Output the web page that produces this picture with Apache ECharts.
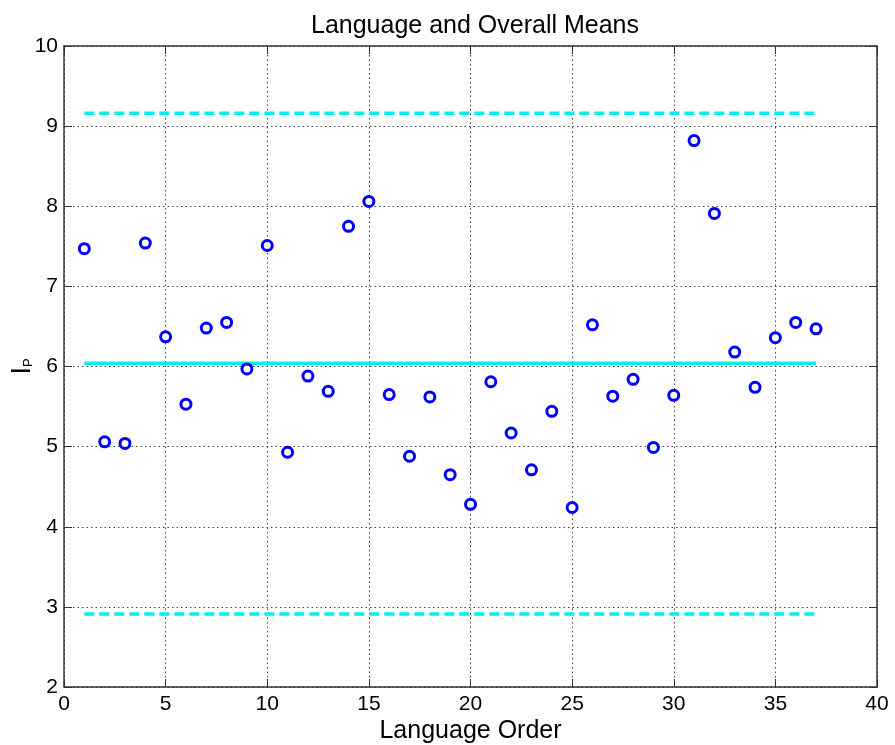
<!DOCTYPE html>
<html>
<head>
<meta charset="utf-8">
<script src="https://cdn.jsdelivr.net/npm/echarts@6/dist/echarts.min.js"></script>
<style>html,body{margin:0;padding:0;background:#fff}#c{width:895px;height:745px}</style>
</head>
<body>
<div id="c"></div>
<script>
const order = [1,2,3,4,5,6,7,8,9,10,11,12,13,14,15,16,17,18,19,20,21,22,23,24,25,26,27,28,29,30,31,32,33,34,35,36,37];
const ipValues = [7.47,5.06,5.04,7.54,6.37,5.53,6.48,6.55,5.97,7.51,4.93,5.88,5.69,7.75,8.06,5.65,4.88,5.62,4.65,4.28,5.81,5.17,4.71,5.44,4.24,6.52,5.63,5.84,4.99,5.64,8.82,7.91,6.18,5.74,6.36,6.55,6.47];
const overallMean = 6.04;
const upperBound = 9.16;
const lowerBound = 2.91;
const lineStart = 1, lineEnd = 37;

const font = 'Liberation Sans, Arial, Helvetica, sans-serif';
const chart = echarts.init(document.getElementById('c'), null, {renderer: 'canvas'});
const hLine = (v, type) => ({
  type: 'line', data: [[lineStart, v], [lineEnd, v]], symbol: 'none', silent: true,
  lineStyle: {color: '#00eeee', width: 3.5, type: type}, z: 3
});
const inTick = {show: true, inside: true, length: 8, lineStyle: {color: '#333', width: 1}};
chart.setOption({
  animation: false,
  backgroundColor: '#fff',
  title: {text: 'Language and Overall Means', left: 306, top: 9,
    textStyle: {fontFamily: font, fontSize: 25, fontWeight: 'normal', color: '#000'}},
  grid: {left: 64, right: 18, top: 46, bottom: 58, show: false, containLabel: false, outerBoundsMode: 'none'},
  xAxis: [{
    type: 'value', min: 0, max: 40, interval: 5, position: 'bottom',
    name: 'Language Order', nameLocation: 'middle', nameGap: 32, nameMoveOverlap: false,
    nameTextStyle: {fontFamily: font, fontSize: 25, color: '#000'},
    axisLine: {show: true, onZero: false, lineStyle: {color: '#333', width: 1.5}},
    axisTick: inTick,
    axisLabel: {fontFamily: font, fontSize: 21, color: '#000', margin: 7},
    splitLine: {show: true, lineStyle: {color: '#444', type: [1.5, 3], width: 1}}
  }, {
    type: 'value', min: 0, max: 40, interval: 5, position: 'top',
    axisLine: {show: true, onZero: false, lineStyle: {color: '#333', width: 1.5}},
    axisTick: inTick, axisLabel: {show: false}, splitLine: {show: false}
  }],
  yAxis: [{
    type: 'value', min: 2, max: 10, interval: 1, position: 'left',
    name: '{a|I}{b|P}', nameLocation: 'middle', nameGap: 28, nameRotate: 90, nameMoveOverlap: false,
    nameTextStyle: {rich: {
      a: {fontFamily: font, fontSize: 27, color: '#000'},
      b: {fontFamily: font, fontSize: 13, color: '#000', padding: [12, 0, 0, 0]}
    }},
    axisLine: {show: true, onZero: false, lineStyle: {color: '#333', width: 1.5}},
    axisTick: inTick,
    axisLabel: {fontFamily: font, fontSize: 21, color: '#000', margin: 6},
    splitLine: {show: true, lineStyle: {color: '#444', type: [1.5, 3], width: 1}}
  }, {
    type: 'value', min: 2, max: 10, interval: 1, position: 'right',
    axisLine: {show: true, onZero: false, lineStyle: {color: '#333', width: 1.5}},
    axisTick: inTick, axisLabel: {show: false}, splitLine: {show: false}
  }],
  series: [
    hLine(upperBound, [10, 5]),
    hLine(overallMean, 'solid'),
    hLine(lowerBound, [10, 5]),
    {
      type: 'scatter', data: order.map((x, i) => [x, ipValues[i]]),
      symbol: 'circle', symbolSize: 10,
      itemStyle: {color: '#ffffff', borderColor: '#0000ff', borderWidth: 3, opacity: 1},
      z: 5
    }
  ]
});
</script>
</body>
</html>
